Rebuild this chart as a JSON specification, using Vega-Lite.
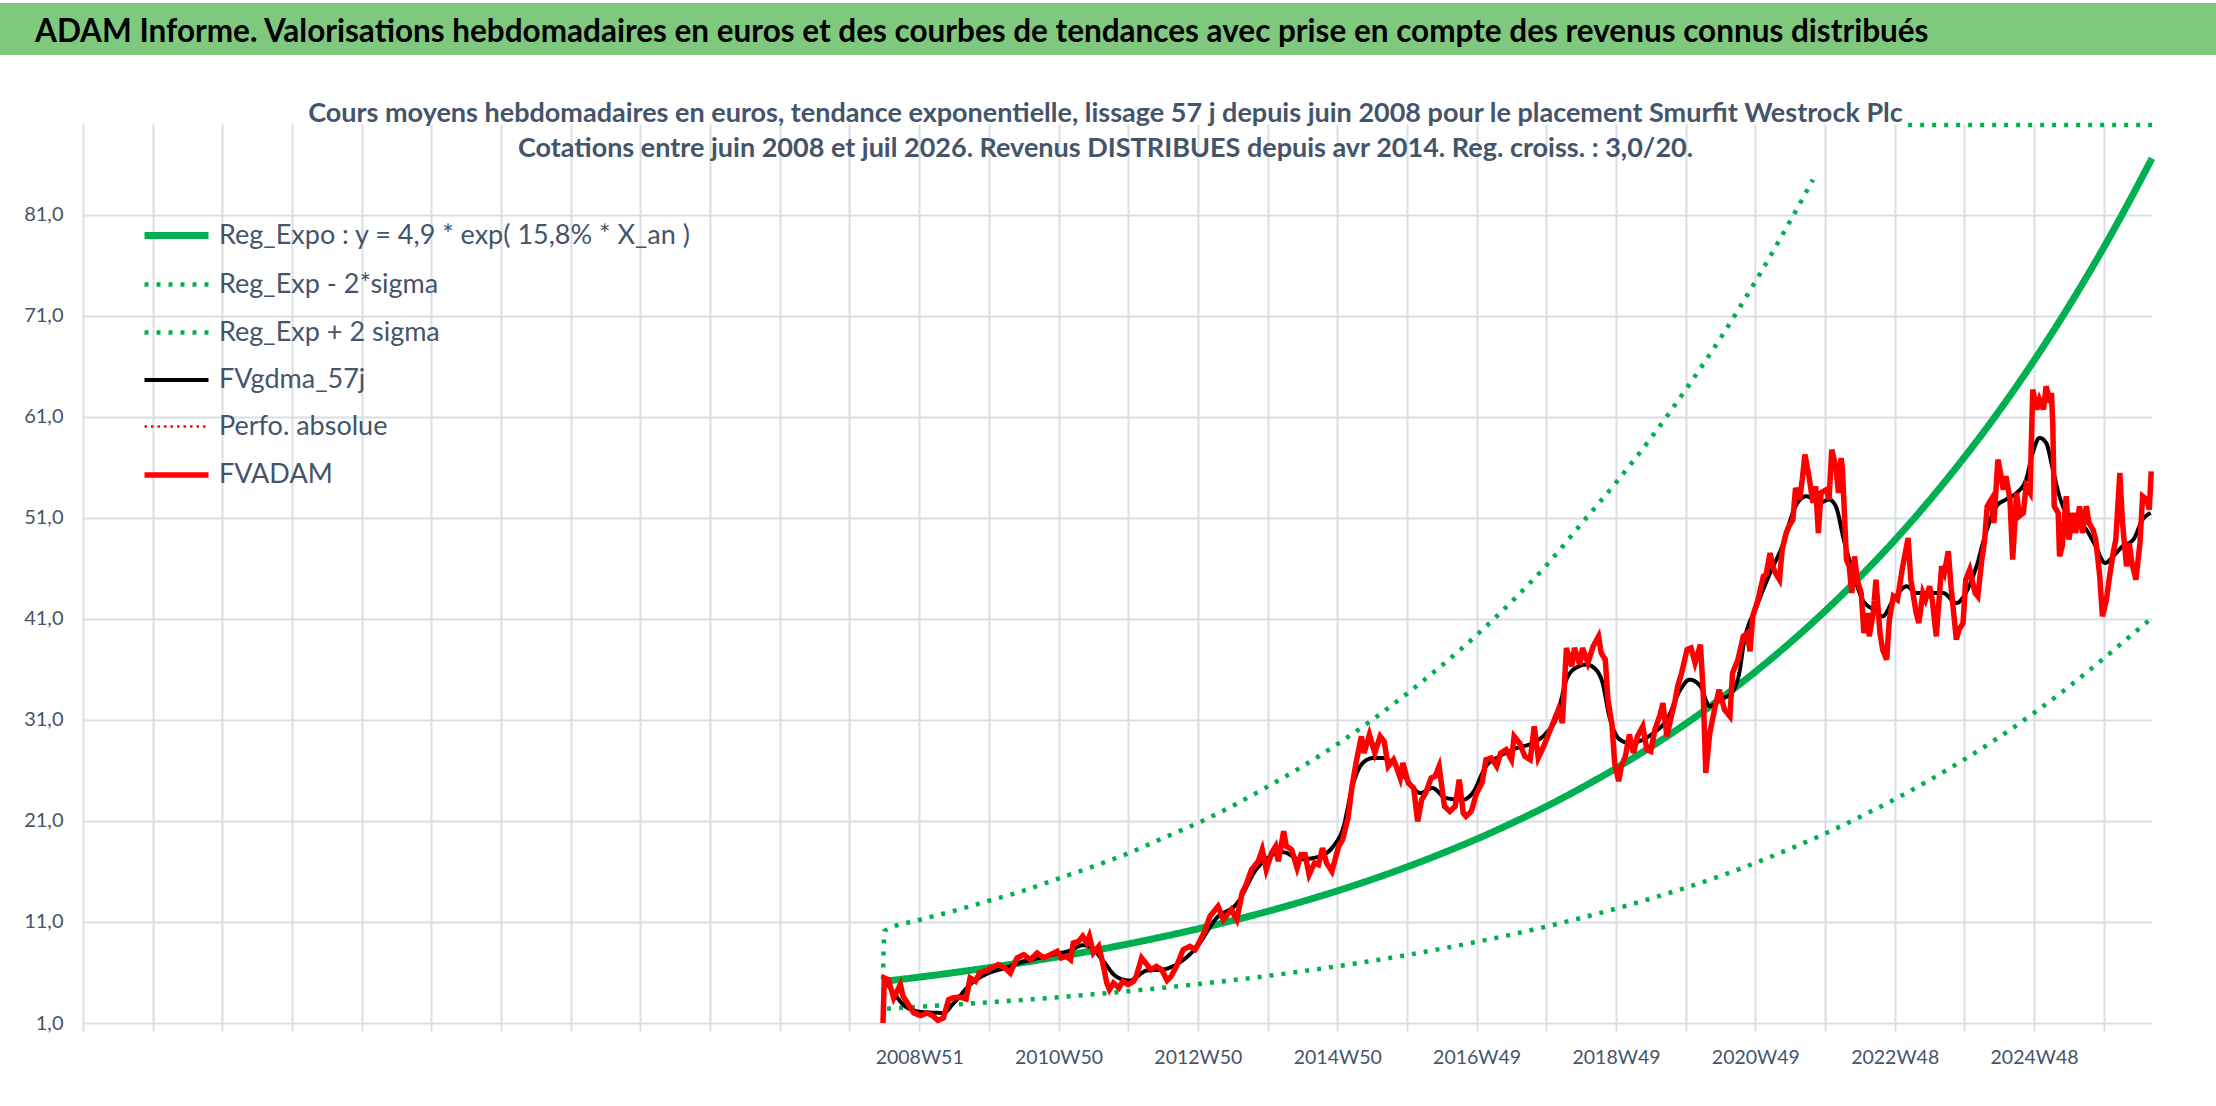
{
  "$schema": "https://vega.github.io/schema/vega-lite/v6.json",
  "background": "white",
  "padding": {"left": 0, "top": 3, "right": 0, "bottom": 0},
  "config": {
    "view": {"stroke": null},
    "font": "Lato",
    "axis": {"labelFont": "Lato"},
    "legend": {"labelFont": "Lato"},
    "title": {"font": "Lato"}
  },
  "bounds": "flush",
  "spacing": 69,
  "datasets": {
    "series": [
      {"s": "Reg_Expo", "g": "a", "w": 598, "v": 5.13}, {"s": "Reg_Expo", "g": "a", "w": 624, "v": 5.54},
      {"s": "Reg_Expo", "g": "a", "w": 650, "v": 5.99}, {"s": "Reg_Expo", "g": "a", "w": 676, "v": 6.48},
      {"s": "Reg_Expo", "g": "a", "w": 702, "v": 7.0}, {"s": "Reg_Expo", "g": "a", "w": 728, "v": 7.56},
      {"s": "Reg_Expo", "g": "a", "w": 754, "v": 8.17}, {"s": "Reg_Expo", "g": "a", "w": 780, "v": 8.83},
      {"s": "Reg_Expo", "g": "a", "w": 806, "v": 9.55}, {"s": "Reg_Expo", "g": "a", "w": 832, "v": 10.32},
      {"s": "Reg_Expo", "g": "a", "w": 858, "v": 11.15}, {"s": "Reg_Expo", "g": "a", "w": 884, "v": 12.05},
      {"s": "Reg_Expo", "g": "a", "w": 910, "v": 13.03}, {"s": "Reg_Expo", "g": "a", "w": 936, "v": 14.08},
      {"s": "Reg_Expo", "g": "a", "w": 962, "v": 15.22}, {"s": "Reg_Expo", "g": "a", "w": 988, "v": 16.45},
      {"s": "Reg_Expo", "g": "a", "w": 1014, "v": 17.78}, {"s": "Reg_Expo", "g": "a", "w": 1040, "v": 19.21},
      {"s": "Reg_Expo", "g": "a", "w": 1066, "v": 20.77}, {"s": "Reg_Expo", "g": "a", "w": 1092, "v": 22.44},
      {"s": "Reg_Expo", "g": "a", "w": 1118, "v": 24.26}, {"s": "Reg_Expo", "g": "a", "w": 1144, "v": 26.22},
      {"s": "Reg_Expo", "g": "a", "w": 1170, "v": 28.33}, {"s": "Reg_Expo", "g": "a", "w": 1196, "v": 30.62},
      {"s": "Reg_Expo", "g": "a", "w": 1222, "v": 33.1}, {"s": "Reg_Expo", "g": "a", "w": 1248, "v": 35.77},
      {"s": "Reg_Expo", "g": "a", "w": 1274, "v": 38.66}, {"s": "Reg_Expo", "g": "a", "w": 1300, "v": 41.78},
      {"s": "Reg_Expo", "g": "a", "w": 1326, "v": 45.16}, {"s": "Reg_Expo", "g": "a", "w": 1352, "v": 48.8},
      {"s": "Reg_Expo", "g": "a", "w": 1378, "v": 52.75}, {"s": "Reg_Expo", "g": "a", "w": 1404, "v": 57.01},
      {"s": "Reg_Expo", "g": "a", "w": 1430, "v": 61.61}, {"s": "Reg_Expo", "g": "a", "w": 1456, "v": 66.59},
      {"s": "Reg_Expo", "g": "a", "w": 1482, "v": 71.97}, {"s": "Reg_Expo", "g": "a", "w": 1508, "v": 77.78},
      {"s": "Reg_Expo", "g": "a", "w": 1534, "v": 84.07}, {"s": "Reg_Expo", "g": "a", "w": 1544, "v": 86.6},

      {"s": "moins", "g": "a", "w": 600, "v": 2.42}, {"s": "moins", "g": "a", "w": 624, "v": 2.6},
      {"s": "moins", "g": "a", "w": 650, "v": 2.82}, {"s": "moins", "g": "a", "w": 676, "v": 3.05},
      {"s": "moins", "g": "a", "w": 702, "v": 3.29}, {"s": "moins", "g": "a", "w": 728, "v": 3.55},
      {"s": "moins", "g": "a", "w": 754, "v": 3.84}, {"s": "moins", "g": "a", "w": 780, "v": 4.15},
      {"s": "moins", "g": "a", "w": 806, "v": 4.49}, {"s": "moins", "g": "a", "w": 832, "v": 4.85},
      {"s": "moins", "g": "a", "w": 858, "v": 5.24}, {"s": "moins", "g": "a", "w": 884, "v": 5.66},
      {"s": "moins", "g": "a", "w": 910, "v": 6.12}, {"s": "moins", "g": "a", "w": 936, "v": 6.62},
      {"s": "moins", "g": "a", "w": 962, "v": 7.15}, {"s": "moins", "g": "a", "w": 988, "v": 7.73},
      {"s": "moins", "g": "a", "w": 1014, "v": 8.36}, {"s": "moins", "g": "a", "w": 1040, "v": 9.03},
      {"s": "moins", "g": "a", "w": 1066, "v": 9.76}, {"s": "moins", "g": "a", "w": 1092, "v": 10.55},
      {"s": "moins", "g": "a", "w": 1118, "v": 11.4}, {"s": "moins", "g": "a", "w": 1144, "v": 12.32},
      {"s": "moins", "g": "a", "w": 1170, "v": 13.32}, {"s": "moins", "g": "a", "w": 1196, "v": 14.39},
      {"s": "moins", "g": "a", "w": 1222, "v": 15.56}, {"s": "moins", "g": "a", "w": 1248, "v": 16.85},
      {"s": "moins", "g": "a", "w": 1274, "v": 18.25}, {"s": "moins", "g": "a", "w": 1300, "v": 19.75},
      {"s": "moins", "g": "a", "w": 1326, "v": 21.4}, {"s": "moins", "g": "a", "w": 1352, "v": 23.15},
      {"s": "moins", "g": "a", "w": 1378, "v": 25.05}, {"s": "moins", "g": "a", "w": 1404, "v": 27.1},
      {"s": "moins", "g": "a", "w": 1430, "v": 29.3}, {"s": "moins", "g": "a", "w": 1456, "v": 31.7},
      {"s": "moins", "g": "a", "w": 1482, "v": 34.3}, {"s": "moins", "g": "a", "w": 1508, "v": 37.1},
      {"s": "moins", "g": "a", "w": 1534, "v": 40.0}, {"s": "moins", "g": "a", "w": 1544, "v": 41.1},

      {"s": "plus", "g": "a", "w": 597, "v": 5.3}, {"s": "plus", "g": "a", "w": 598, "v": 10.1},
      {"s": "plus", "g": "a", "w": 624, "v": 11.2}, {"s": "plus", "g": "a", "w": 650, "v": 12.1},
      {"s": "plus", "g": "a", "w": 676, "v": 13.1}, {"s": "plus", "g": "a", "w": 702, "v": 14.1},
      {"s": "plus", "g": "a", "w": 728, "v": 15.3}, {"s": "plus", "g": "a", "w": 754, "v": 16.5},
      {"s": "plus", "g": "a", "w": 780, "v": 17.8}, {"s": "plus", "g": "a", "w": 806, "v": 19.3},
      {"s": "plus", "g": "a", "w": 832, "v": 20.8}, {"s": "plus", "g": "a", "w": 858, "v": 22.5},
      {"s": "plus", "g": "a", "w": 884, "v": 24.4}, {"s": "plus", "g": "a", "w": 910, "v": 26.4},
      {"s": "plus", "g": "a", "w": 936, "v": 28.6}, {"s": "plus", "g": "a", "w": 962, "v": 31.0},
      {"s": "plus", "g": "a", "w": 988, "v": 33.6}, {"s": "plus", "g": "a", "w": 1014, "v": 36.4},
      {"s": "plus", "g": "a", "w": 1040, "v": 39.4}, {"s": "plus", "g": "a", "w": 1066, "v": 42.7},
      {"s": "plus", "g": "a", "w": 1092, "v": 46.3}, {"s": "plus", "g": "a", "w": 1118, "v": 50.4},
      {"s": "plus", "g": "a", "w": 1144, "v": 54.5}, {"s": "plus", "g": "a", "w": 1170, "v": 58.9},
      {"s": "plus", "g": "a", "w": 1196, "v": 63.7}, {"s": "plus", "g": "a", "w": 1222, "v": 68.8},
      {"s": "plus", "g": "a", "w": 1248, "v": 74.4}, {"s": "plus", "g": "a", "w": 1274, "v": 80.4},
      {"s": "plus", "g": "a", "w": 1291, "v": 84.5},
      {"s": "plus", "g": "b", "w": 1362, "v": 89.9}, {"s": "plus", "g": "b", "w": 1544, "v": 89.9},

      {"s": "gdma", "g": "a", "w": 598, "v": 5.3}, {"s": "gdma", "g": "a", "w": 605, "v": 4.0},
      {"s": "gdma", "g": "a", "w": 614, "v": 2.6}, {"s": "gdma", "g": "a", "w": 625, "v": 2.1},
      {"s": "gdma", "g": "a", "w": 642, "v": 2.0}, {"s": "gdma", "g": "a", "w": 650, "v": 3.0},
      {"s": "gdma", "g": "a", "w": 662, "v": 4.8}, {"s": "gdma", "g": "a", "w": 675, "v": 5.9},
      {"s": "gdma", "g": "a", "w": 687, "v": 6.4}, {"s": "gdma", "g": "a", "w": 700, "v": 7.0},
      {"s": "gdma", "g": "a", "w": 712, "v": 7.4}, {"s": "gdma", "g": "a", "w": 725, "v": 7.8},
      {"s": "gdma", "g": "a", "w": 737, "v": 8.2}, {"s": "gdma", "g": "a", "w": 746, "v": 8.7},
      {"s": "gdma", "g": "a", "w": 752, "v": 8.5}, {"s": "gdma", "g": "a", "w": 761, "v": 7.2},
      {"s": "gdma", "g": "a", "w": 771, "v": 5.6}, {"s": "gdma", "g": "a", "w": 781, "v": 5.2},
      {"s": "gdma", "g": "a", "w": 794, "v": 6.2}, {"s": "gdma", "g": "a", "w": 806, "v": 6.3},
      {"s": "gdma", "g": "a", "w": 816, "v": 6.8}, {"s": "gdma", "g": "a", "w": 831, "v": 8.5},
      {"s": "gdma", "g": "a", "w": 846, "v": 11.4}, {"s": "gdma", "g": "a", "w": 861, "v": 12.8},
      {"s": "gdma", "g": "a", "w": 876, "v": 16.3}, {"s": "gdma", "g": "a", "w": 886, "v": 17.5},
      {"s": "gdma", "g": "a", "w": 896, "v": 17.9}, {"s": "gdma", "g": "a", "w": 908, "v": 17.2},
      {"s": "gdma", "g": "a", "w": 923, "v": 17.5}, {"s": "gdma", "g": "a", "w": 933, "v": 18.49},
      {"s": "gdma", "g": "a", "w": 940, "v": 20.14}, {"s": "gdma", "g": "a", "w": 948, "v": 24.76},
      {"s": "gdma", "g": "a", "w": 955, "v": 26.74}, {"s": "gdma", "g": "a", "w": 963, "v": 27.24},
      {"s": "gdma", "g": "a", "w": 970, "v": 27.24}, {"s": "gdma", "g": "a", "w": 980, "v": 26.41},
      {"s": "gdma", "g": "a", "w": 988, "v": 25.09}, {"s": "gdma", "g": "a", "w": 998, "v": 23.77},
      {"s": "gdma", "g": "a", "w": 1007, "v": 24.26}, {"s": "gdma", "g": "a", "w": 1017, "v": 23.27},
      {"s": "gdma", "g": "a", "w": 1030, "v": 23.11}, {"s": "gdma", "g": "a", "w": 1037, "v": 23.77},
      {"s": "gdma", "g": "a", "w": 1047, "v": 26.41}, {"s": "gdma", "g": "a", "w": 1057, "v": 27.4},
      {"s": "gdma", "g": "a", "w": 1070, "v": 28.22}, {"s": "gdma", "g": "a", "w": 1082, "v": 28.72},
      {"s": "gdma", "g": "a", "w": 1092, "v": 29.71}, {"s": "gdma", "g": "a", "w": 1100, "v": 31.36},
      {"s": "gdma", "g": "a", "w": 1107, "v": 34.99}, {"s": "gdma", "g": "a", "w": 1114, "v": 36.15},
      {"s": "gdma", "g": "a", "w": 1122, "v": 36.48}, {"s": "gdma", "g": "a", "w": 1129, "v": 35.98},
      {"s": "gdma", "g": "a", "w": 1134, "v": 34.66}, {"s": "gdma", "g": "a", "w": 1139, "v": 31.36},
      {"s": "gdma", "g": "a", "w": 1147, "v": 29.05}, {"s": "gdma", "g": "a", "w": 1154, "v": 28.72},
      {"s": "gdma", "g": "a", "w": 1164, "v": 29.05}, {"s": "gdma", "g": "a", "w": 1172, "v": 29.71},
      {"s": "gdma", "g": "a", "w": 1182, "v": 31.03}, {"s": "gdma", "g": "a", "w": 1192, "v": 34.0},
      {"s": "gdma", "g": "a", "w": 1199, "v": 34.99}, {"s": "gdma", "g": "a", "w": 1207, "v": 34.33},
      {"s": "gdma", "g": "a", "w": 1214, "v": 32.35}, {"s": "gdma", "g": "a", "w": 1221, "v": 33.01},
      {"s": "gdma", "g": "a", "w": 1229, "v": 33.5}, {"s": "gdma", "g": "a", "w": 1236, "v": 35.65},
      {"s": "gdma", "g": "a", "w": 1239, "v": 38.29}, {"s": "gdma", "g": "a", "w": 1249, "v": 42.25},
      {"s": "gdma", "g": "a", "w": 1259, "v": 45.55}, {"s": "gdma", "g": "a", "w": 1268, "v": 48.19},
      {"s": "gdma", "g": "a", "w": 1278, "v": 52.16}, {"s": "gdma", "g": "a", "w": 1286, "v": 53.15},
      {"s": "gdma", "g": "a", "w": 1296, "v": 52.49}, {"s": "gdma", "g": "a", "w": 1303, "v": 52.82},
      {"s": "gdma", "g": "a", "w": 1308, "v": 52.16}, {"s": "gdma", "g": "a", "w": 1314, "v": 48.85},
      {"s": "gdma", "g": "a", "w": 1321, "v": 45.55}, {"s": "gdma", "g": "a", "w": 1328, "v": 42.91},
      {"s": "gdma", "g": "a", "w": 1336, "v": 41.92}, {"s": "gdma", "g": "a", "w": 1343, "v": 41.26},
      {"s": "gdma", "g": "a", "w": 1351, "v": 42.91}, {"s": "gdma", "g": "a", "w": 1361, "v": 44.23},
      {"s": "gdma", "g": "a", "w": 1368, "v": 43.57}, {"s": "gdma", "g": "a", "w": 1378, "v": 43.57},
      {"s": "gdma", "g": "a", "w": 1388, "v": 43.57}, {"s": "gdma", "g": "a", "w": 1398, "v": 42.58},
      {"s": "gdma", "g": "a", "w": 1405, "v": 43.57}, {"s": "gdma", "g": "a", "w": 1413, "v": 46.21},
      {"s": "gdma", "g": "a", "w": 1420, "v": 49.51}, {"s": "gdma", "g": "a", "w": 1428, "v": 52.16},
      {"s": "gdma", "g": "a", "w": 1435, "v": 52.82}, {"s": "gdma", "g": "a", "w": 1443, "v": 53.48},
      {"s": "gdma", "g": "a", "w": 1450, "v": 54.8}, {"s": "gdma", "g": "a", "w": 1455, "v": 57.44},
      {"s": "gdma", "g": "a", "w": 1460, "v": 58.92}, {"s": "gdma", "g": "a", "w": 1465, "v": 58.43},
      {"s": "gdma", "g": "a", "w": 1470, "v": 55.79}, {"s": "gdma", "g": "a", "w": 1475, "v": 53.15},
      {"s": "gdma", "g": "a", "w": 1480, "v": 51.5}, {"s": "gdma", "g": "a", "w": 1487, "v": 50.83},
      {"s": "gdma", "g": "a", "w": 1495, "v": 49.84}, {"s": "gdma", "g": "a", "w": 1502, "v": 48.19},
      {"s": "gdma", "g": "a", "w": 1509, "v": 46.54}, {"s": "gdma", "g": "a", "w": 1515, "v": 47.2},
      {"s": "gdma", "g": "a", "w": 1522, "v": 48.19}, {"s": "gdma", "g": "a", "w": 1530, "v": 48.85},
      {"s": "gdma", "g": "a", "w": 1537, "v": 50.83}, {"s": "gdma", "g": "a", "w": 1543, "v": 51.5}
    ],
    "adam": [
      {"w": 597, "v": 1.0}, {"w": 598, "v": 5.46}, {"w": 601, "v": 5.29}, {"w": 605, "v": 3.48},
      {"w": 610, "v": 4.8}, {"w": 612, "v": 3.64}, {"w": 616, "v": 2.82}, {"w": 620, "v": 1.99},
      {"w": 625, "v": 1.73}, {"w": 630, "v": 1.99}, {"w": 634, "v": 1.73}, {"w": 638, "v": 1.26},
      {"w": 642, "v": 1.5}, {"w": 646, "v": 3.31}, {"w": 649, "v": 3.48}, {"w": 654, "v": 3.57},
      {"w": 659, "v": 3.38}, {"w": 662, "v": 5.46}, {"w": 666, "v": 5.13}, {"w": 669, "v": 5.95},
      {"w": 673, "v": 6.12}, {"w": 678, "v": 6.45}, {"w": 683, "v": 6.78}, {"w": 688, "v": 6.45},
      {"w": 692, "v": 5.95}, {"w": 697, "v": 7.44}, {"w": 702, "v": 7.77}, {"w": 707, "v": 7.27},
      {"w": 712, "v": 7.93}, {"w": 717, "v": 7.44}, {"w": 722, "v": 7.77}, {"w": 727, "v": 8.1},
      {"w": 730, "v": 7.44}, {"w": 734, "v": 7.6}, {"w": 737, "v": 7.27}, {"w": 739, "v": 8.92},
      {"w": 743, "v": 9.09}, {"w": 746, "v": 9.58}, {"w": 749, "v": 8.92}, {"w": 751, "v": 9.58},
      {"w": 754, "v": 7.93}, {"w": 758, "v": 8.59}, {"w": 761, "v": 6.94}, {"w": 764, "v": 4.96},
      {"w": 766, "v": 4.3}, {"w": 769, "v": 4.96}, {"w": 773, "v": 4.47}, {"w": 776, "v": 5.13},
      {"w": 780, "v": 4.8}, {"w": 784, "v": 5.13}, {"w": 786, "v": 5.62}, {"w": 790, "v": 7.44},
      {"w": 794, "v": 6.78}, {"w": 797, "v": 6.28}, {"w": 801, "v": 6.61}, {"w": 805, "v": 6.28},
      {"w": 809, "v": 5.22}, {"w": 812, "v": 5.62}, {"w": 816, "v": 6.61}, {"w": 821, "v": 8.26},
      {"w": 826, "v": 8.59}, {"w": 830, "v": 8.26}, {"w": 834, "v": 9.25}, {"w": 837, "v": 10.08},
      {"w": 841, "v": 11.56}, {"w": 847, "v": 12.55}, {"w": 851, "v": 11.23}, {"w": 855, "v": 11.89},
      {"w": 857, "v": 12.22}, {"w": 861, "v": 11.23}, {"w": 865, "v": 13.87}, {"w": 868, "v": 14.7},
      {"w": 872, "v": 16.18}, {"w": 877, "v": 17.0}, {"w": 880, "v": 18.16}, {"w": 883, "v": 16.18},
      {"w": 887, "v": 17.83}, {"w": 890, "v": 18.49}, {"w": 892, "v": 17.0}, {"w": 896, "v": 19.98},
      {"w": 898, "v": 18.49}, {"w": 902, "v": 18.16}, {"w": 906, "v": 16.35}, {"w": 909, "v": 17.67},
      {"w": 912, "v": 17.66}, {"w": 915, "v": 15.68}, {"w": 919, "v": 16.84}, {"w": 922, "v": 16.67},
      {"w": 925, "v": 18.32}, {"w": 928, "v": 16.84}, {"w": 932, "v": 16.01}, {"w": 934, "v": 17.0},
      {"w": 937, "v": 18.49}, {"w": 940, "v": 19.15}, {"w": 944, "v": 21.3}, {"w": 947, "v": 24.43},
      {"w": 950, "v": 26.74}, {"w": 954, "v": 29.38}, {"w": 956, "v": 27.73}, {"w": 960, "v": 29.55},
      {"w": 964, "v": 27.73}, {"w": 968, "v": 29.38}, {"w": 971, "v": 28.88}, {"w": 974, "v": 26.41},
      {"w": 978, "v": 27.07}, {"w": 980, "v": 26.41}, {"w": 983, "v": 25.25}, {"w": 985, "v": 26.74},
      {"w": 989, "v": 24.76}, {"w": 993, "v": 24.26}, {"w": 996, "v": 20.96}, {"w": 999, "v": 23.11},
      {"w": 1002, "v": 23.77}, {"w": 1006, "v": 25.25}, {"w": 1009, "v": 25.42}, {"w": 1012, "v": 26.41},
      {"w": 1016, "v": 22.45}, {"w": 1020, "v": 21.95}, {"w": 1024, "v": 22.45}, {"w": 1027, "v": 25.09},
      {"w": 1030, "v": 21.79}, {"w": 1032, "v": 21.46}, {"w": 1036, "v": 21.95}, {"w": 1040, "v": 23.77},
      {"w": 1044, "v": 24.76}, {"w": 1047, "v": 27.07}, {"w": 1051, "v": 27.24}, {"w": 1055, "v": 26.41},
      {"w": 1058, "v": 27.73}, {"w": 1062, "v": 28.06}, {"w": 1066, "v": 27.07}, {"w": 1068, "v": 29.38},
      {"w": 1072, "v": 28.72}, {"w": 1076, "v": 27.4}, {"w": 1080, "v": 27.07}, {"w": 1083, "v": 30.37},
      {"w": 1086, "v": 27.24}, {"w": 1090, "v": 28.39}, {"w": 1093, "v": 29.38}, {"w": 1097, "v": 30.7},
      {"w": 1101, "v": 32.02}, {"w": 1104, "v": 30.7}, {"w": 1107, "v": 38.13}, {"w": 1111, "v": 36.31},
      {"w": 1113, "v": 38.13}, {"w": 1117, "v": 36.48}, {"w": 1119, "v": 38.13}, {"w": 1123, "v": 36.64},
      {"w": 1127, "v": 38.3}, {"w": 1131, "v": 39.28}, {"w": 1133, "v": 37.63}, {"w": 1136, "v": 36.97},
      {"w": 1138, "v": 33.01}, {"w": 1141, "v": 30.54}, {"w": 1143, "v": 26.74}, {"w": 1146, "v": 24.93},
      {"w": 1148, "v": 26.41}, {"w": 1151, "v": 27.4}, {"w": 1154, "v": 29.55}, {"w": 1157, "v": 27.73},
      {"w": 1160, "v": 29.38}, {"w": 1164, "v": 30.37}, {"w": 1167, "v": 28.06}, {"w": 1170, "v": 27.89},
      {"w": 1173, "v": 30.04}, {"w": 1177, "v": 31.53}, {"w": 1179, "v": 32.68}, {"w": 1182, "v": 29.38},
      {"w": 1185, "v": 31.2}, {"w": 1188, "v": 32.85}, {"w": 1190, "v": 34.33}, {"w": 1193, "v": 35.65},
      {"w": 1197, "v": 37.96}, {"w": 1200, "v": 38.13}, {"w": 1203, "v": 36.64}, {"w": 1207, "v": 38.46},
      {"w": 1209, "v": 34.0}, {"w": 1211, "v": 25.75}, {"w": 1214, "v": 29.71}, {"w": 1218, "v": 32.35},
      {"w": 1221, "v": 34.0}, {"w": 1225, "v": 32.02}, {"w": 1229, "v": 31.36}, {"w": 1231, "v": 35.65},
      {"w": 1235, "v": 36.97}, {"w": 1239, "v": 39.28}, {"w": 1242, "v": 39.61}, {"w": 1244, "v": 37.8},
      {"w": 1246, "v": 41.26}, {"w": 1250, "v": 42.91}, {"w": 1254, "v": 45.22}, {"w": 1256, "v": 45.39},
      {"w": 1259, "v": 47.53}, {"w": 1261, "v": 46.21}, {"w": 1263, "v": 45.55}, {"w": 1266, "v": 44.89},
      {"w": 1268, "v": 47.86}, {"w": 1271, "v": 49.51}, {"w": 1273, "v": 50.17}, {"w": 1276, "v": 50.83},
      {"w": 1278, "v": 53.97}, {"w": 1281, "v": 52.82}, {"w": 1283, "v": 54.8}, {"w": 1285, "v": 57.27},
      {"w": 1288, "v": 55.13}, {"w": 1291, "v": 52.49}, {"w": 1293, "v": 54.14}, {"w": 1295, "v": 49.51},
      {"w": 1297, "v": 53.48}, {"w": 1301, "v": 53.8}, {"w": 1303, "v": 52.82}, {"w": 1305, "v": 57.77},
      {"w": 1308, "v": 56.12}, {"w": 1310, "v": 53.48}, {"w": 1312, "v": 56.94}, {"w": 1313, "v": 55.79},
      {"w": 1316, "v": 46.87}, {"w": 1318, "v": 46.21}, {"w": 1320, "v": 43.57}, {"w": 1322, "v": 47.2},
      {"w": 1324, "v": 44.89}, {"w": 1327, "v": 43.57}, {"w": 1329, "v": 39.61}, {"w": 1332, "v": 41.59},
      {"w": 1333, "v": 39.28}, {"w": 1336, "v": 41.59}, {"w": 1338, "v": 44.89}, {"w": 1341, "v": 39.61},
      {"w": 1343, "v": 37.96}, {"w": 1346, "v": 36.97}, {"w": 1348, "v": 40.93}, {"w": 1351, "v": 43.24},
      {"w": 1354, "v": 42.91}, {"w": 1358, "v": 46.21}, {"w": 1362, "v": 49.02}, {"w": 1364, "v": 44.89},
      {"w": 1368, "v": 41.59}, {"w": 1370, "v": 40.6}, {"w": 1373, "v": 43.57}, {"w": 1375, "v": 42.91},
      {"w": 1378, "v": 44.23}, {"w": 1380, "v": 42.91}, {"w": 1383, "v": 39.28}, {"w": 1387, "v": 46.21},
      {"w": 1389, "v": 45.55}, {"w": 1392, "v": 47.7}, {"w": 1394, "v": 44.23}, {"w": 1398, "v": 38.95},
      {"w": 1400, "v": 39.94}, {"w": 1403, "v": 40.6}, {"w": 1405, "v": 44.89}, {"w": 1408, "v": 45.88},
      {"w": 1412, "v": 43.57}, {"w": 1414, "v": 43.24}, {"w": 1417, "v": 46.87}, {"w": 1419, "v": 48.69},
      {"w": 1421, "v": 52.16}, {"w": 1424, "v": 52.82}, {"w": 1426, "v": 50.5}, {"w": 1429, "v": 56.78},
      {"w": 1431, "v": 55.46}, {"w": 1433, "v": 53.8}, {"w": 1435, "v": 55.13}, {"w": 1438, "v": 52.82},
      {"w": 1440, "v": 46.87}, {"w": 1443, "v": 53.48}, {"w": 1445, "v": 51.17}, {"w": 1448, "v": 51.5},
      {"w": 1450, "v": 54.14}, {"w": 1453, "v": 53.48}, {"w": 1455, "v": 63.71}, {"w": 1458, "v": 61.73},
      {"w": 1460, "v": 62.72}, {"w": 1463, "v": 61.73}, {"w": 1465, "v": 64.04}, {"w": 1468, "v": 62.39},
      {"w": 1469, "v": 63.38}, {"w": 1470, "v": 60.08}, {"w": 1471, "v": 52.16}, {"w": 1474, "v": 51.5},
      {"w": 1475, "v": 47.2}, {"w": 1477, "v": 48.19}, {"w": 1480, "v": 53.15}, {"w": 1482, "v": 48.85},
      {"w": 1485, "v": 51.5}, {"w": 1487, "v": 49.51}, {"w": 1490, "v": 52.16}, {"w": 1492, "v": 49.51},
      {"w": 1495, "v": 52.16}, {"w": 1497, "v": 50.5}, {"w": 1500, "v": 49.84}, {"w": 1502, "v": 48.85},
      {"w": 1505, "v": 45.22}, {"w": 1507, "v": 41.26}, {"w": 1510, "v": 42.91}, {"w": 1512, "v": 44.89},
      {"w": 1515, "v": 47.53}, {"w": 1517, "v": 48.85}, {"w": 1520, "v": 55.46}, {"w": 1522, "v": 50.5},
      {"w": 1525, "v": 46.21}, {"w": 1527, "v": 48.52}, {"w": 1529, "v": 46.54}, {"w": 1532, "v": 44.89},
      {"w": 1535, "v": 48.52}, {"w": 1537, "v": 53.15}, {"w": 1540, "v": 52.82}, {"w": 1542, "v": 51.83},
      {"w": 1543.4, "v": 55.62}
    ]
  },
  "vconcat": [
    {
      "width": 2216,
      "height": 52,
      "view": {"fill": "#7FC97F", "stroke": null},
      "title": {
        "text": "ADAM Informe. Valorisations hebdomadaires en euros et des courbes de tendances avec prise en compte des revenus connus distribués",
        "anchor": "start",
        "frame": "group",
        "dx": 35,
        "offset": -45,
        "fontSize": 31.5,
        "fontWeight": "bold",
        "color": "#000000"
      },
      "data": {"values": [{}]},
      "mark": {"type": "point", "opacity": 0},
      "encoding": {}
    },
    {
      "bounds": "flush",
      "spacing": 0,
      "hconcat": [
        {
          "width": 83,
          "height": 899,
          "data": {"values": [{}]},
          "mark": {"type": "point", "opacity": 0},
          "encoding": {}
        },
        {
          "width": 2069,
          "height": 899,
          "title": {
            "text": [
              "Cours moyens hebdomadaires en euros, tendance exponentielle, lissage 57 j depuis juin 2008 pour le placement Smurfit Westrock Plc",
              "Cotations entre juin 2008 et juil 2026. Revenus DISTRIBUES depuis avr 2014. Reg. croiss. : 3,0/20."
            ],
            "anchor": "middle",
            "frame": "group",
            "dx": -12,
            "offset": -47,
            "fontSize": 27,
            "lineHeight": 35,
            "fontWeight": "bold",
            "color": "#44546A"
          },
          "encoding": {
            "x": {
              "field": "w",
              "type": "quantitative",
              "title": null,
              "scale": {"domain": [0, 1544], "nice": false, "zero": false},
              "axis": {
                "values": [0, 52, 104, 156, 208, 260, 312, 364, 416, 468, 520, 572, 624, 676, 728, 780, 832, 884, 936, 988, 1040, 1092, 1144, 1196, 1248, 1300, 1352, 1404, 1456, 1508],
                "labelExpr": "datum.value == 624 ? '2008W51' : datum.value == 728 ? '2010W50' : datum.value == 832 ? '2012W50' : datum.value == 936 ? '2014W50' : datum.value == 1040 ? '2016W49' : datum.value == 1144 ? '2018W49' : datum.value == 1248 ? '2020W49' : datum.value == 1352 ? '2022W48' : datum.value == 1456 ? '2024W48' : ''",
                "grid": true,
                "gridColor": "#DADEE5",
                "gridWidth": 2,
                "domain": false,
                "ticks": true,
                "tickColor": "#DADEE5",
                "tickWidth": 2,
                "tickSize": 8,
                "labelPadding": 17,
                "labelFontSize": 19.5,
                "labelColor": "#44546A",
                "labelOverlap": false,
                "labelFlush": false
              }
            },
            "y": {
              "field": "v",
              "type": "quantitative",
              "title": null,
              "scale": {"domain": [1, 90], "nice": false, "zero": false},
              "axis": {
                "values": [1, 11, 21, 31, 41, 51, 61, 71, 81],
                "labelExpr": "replace(format(datum.value, '.1f'), '.', ',')",
                "grid": true,
                "gridColor": "#DADEE5",
                "gridWidth": 2,
                "domain": false,
                "ticks": false,
                "labelPadding": 20,
                "labelFontSize": 20,
                "labelColor": "#44546A"
              }
            }
          },
          "layer": [
            {
              "data": {"values": [{}]},
              "mark": {"type": "rect", "fill": "white"},
              "encoding": {
                "x": {"datum": 166, "type": "quantitative"},
                "x2": {"datum": 1360},
                "y": {"datum": 85.1, "type": "quantitative"},
                "y2": {"datum": 90}
              }
            },
            {
              "data": {"name": "series"},
              "transform": [
                {"calculate": "datum.s == 'Reg_Expo' ? 'Reg_Expo : y = 4,9 * exp( 15,8% *  X_an )' : datum.s == 'moins' ? 'Reg_Exp - 2*sigma' : datum.s == 'plus' ? 'Reg_Exp + 2 sigma' : 'FVgdma_57j'", "as": "serie"}
              ],
              "mark": {"type": "line", "interpolate": "monotone"},
              "encoding": {
                "detail": {"field": "g"},
                "color": {
                  "field": "serie",
                  "type": "nominal",
                  "scale": {
                    "domain": ["Reg_Expo : y = 4,9 * exp( 15,8% *  X_an )", "Reg_Exp - 2*sigma", "Reg_Exp + 2 sigma", "FVgdma_57j", "Perfo. absolue", "FVADAM"],
                    "range": ["#00B050", "#00B050", "#00B050", "#000000", "#FF0000", "#FF0000"]
                  },
                  "legend": {
                    "title": null,
                    "orient": "none",
                    "legendX": 141,
                    "legendY": 197,
                    "symbolType": "stroke",
                    "symbolSize": 4096,
                    "labelFontSize": 27,
                    "labelColor": "#44546A",
                    "labelOffset": 7,
                    "labelLimit": 1000,
                    "rowPadding": -25
                  }
                },
                "strokeDash": {
                  "field": "serie",
                  "type": "nominal",
                  "scale": {
                    "domain": ["Reg_Expo : y = 4,9 * exp( 15,8% *  X_an )", "Reg_Exp - 2*sigma", "Reg_Exp + 2 sigma", "FVgdma_57j", "Perfo. absolue", "FVADAM"],
                    "range": [[1, 0], [4, 8], [4, 8], [1, 0], [2.5, 4], [1, 0]]
                  },
                  "legend": null
                },
                "strokeWidth": {
                  "field": "serie",
                  "type": "nominal",
                  "scale": {
                    "type": "ordinal",
                    "domain": ["Reg_Expo : y = 4,9 * exp( 15,8% *  X_an )", "Reg_Exp - 2*sigma", "Reg_Exp + 2 sigma", "FVgdma_57j", "Perfo. absolue", "FVADAM"],
                    "range": [7, 4.5, 4.5, 4, 2.5, 5.5]
                  },
                  "legend": null
                }
              }
            },
            {
              "data": {"name": "adam"},
              "transform": [{"calculate": "'FVADAM'", "as": "serie"}],
              "mark": {"type": "line"},
              "encoding": {
                "color": {
                  "field": "serie",
                  "type": "nominal",
                  "scale": {
                    "domain": ["Reg_Expo : y = 4,9 * exp( 15,8% *  X_an )", "Reg_Exp - 2*sigma", "Reg_Exp + 2 sigma", "FVgdma_57j", "Perfo. absolue", "FVADAM"],
                    "range": ["#00B050", "#00B050", "#00B050", "#000000", "#FF0000", "#FF0000"]
                  },
                  "legend": {
                    "title": null,
                    "orient": "none",
                    "legendX": 141,
                    "legendY": 197,
                    "symbolType": "stroke",
                    "symbolSize": 4096,
                    "labelFontSize": 27,
                    "labelColor": "#44546A",
                    "labelOffset": 7,
                    "labelLimit": 1000,
                    "rowPadding": -25
                  }
                },
                "strokeDash": {
                  "field": "serie",
                  "type": "nominal",
                  "scale": {
                    "domain": ["Reg_Expo : y = 4,9 * exp( 15,8% *  X_an )", "Reg_Exp - 2*sigma", "Reg_Exp + 2 sigma", "FVgdma_57j", "Perfo. absolue", "FVADAM"],
                    "range": [[1, 0], [4, 8], [4, 8], [1, 0], [2.5, 4], [1, 0]]
                  },
                  "legend": null
                },
                "strokeWidth": {
                  "field": "serie",
                  "type": "nominal",
                  "scale": {
                    "type": "ordinal",
                    "domain": ["Reg_Expo : y = 4,9 * exp( 15,8% *  X_an )", "Reg_Exp - 2*sigma", "Reg_Exp + 2 sigma", "FVgdma_57j", "Perfo. absolue", "FVADAM"],
                    "range": [7, 4.5, 4.5, 4, 2.5, 5.5]
                  },
                  "legend": null
                }
              }
            }
          ]
        }
      ]
    }
  ]
}
